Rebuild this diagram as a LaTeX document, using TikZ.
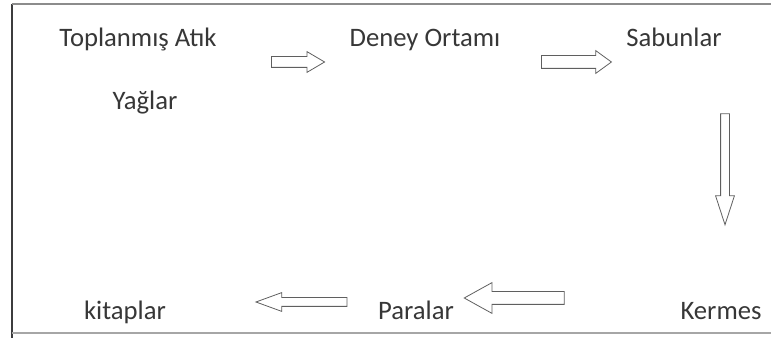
\documentclass[tikz,border=0pt]{standalone}
\usepackage{fontspec}
\setmainfont{Carlito}
\usetikzlibrary{shapes.arrows}
\definecolor{cTxt}{RGB}{55,55,55}
\definecolor{cFrm}{RGB}{60,60,62}
\definecolor{cArw}{RGB}{95,95,95}

\begin{document}
\begin{tikzpicture}[
  x=0.75pt, y=-0.75pt,
  font=\fontsize{20}{24}\selectfont,
  lbl/.style  = {text=cTxt, inner sep=0pt, anchor=base},
  blk/.style  = {single arrow, draw=cArw, line width=0.6pt, inner xsep=0pt,
                 single arrow head indent=0pt},
  frm/.style  = {line width=1.2pt}
]
\useasboundingbox (0,0) rectangle (771,338);

% ------------------------------------------------------------ il riquadro --
\draw[frm, cFrm] (12,338) -- (12,4);
\draw[frm, black!45] (12,4) -- (771,4);
\draw[frm, black!35] (12,333) -- (771,333);

% ---------------------------------------------------------------- le fasi --
\node[lbl] (atik)   at (138,47)  {Toplanmış Atık};
\node[lbl] (yag)    at (145,110) {Yağlar};
\node[lbl] (deney)  at (425,47)  {Deney Ortamı};
\node[lbl] (sabun)  at (674,47)  {Sabunlar};
\node[lbl] (kermes) at (721,320) {Kermes};
\node[lbl] (para)   at (416,320) {Paralar};
\node[lbl] (kitap)  at (125,320) {kitaplar};

% ------------------------------------------------------------------ frecce --
\node[blk, inner ysep=3.75pt, single arrow head extend=3.75pt,
      single arrow tip angle=61, minimum height=39.75pt] (f1) at (293.5,62) {};
\node[blk, inner ysep=4.5pt, single arrow head extend=3.75pt,
      single arrow tip angle=72, minimum height=52.5pt] (f2) at (572,62) {};
\node[blk, rotate=-90, inner ysep=3pt, single arrow head extend=3.75pt,
      single arrow tip angle=36, minimum height=83.25pt] (f3) at (725,162.5) {};
\node[blk, rotate=180, inner ysep=4.5pt, single arrow head extend=6.75pt,
      single arrow tip angle=58, minimum height=75pt] (f4) at (520,298) {};
\node[blk, rotate=180, inner ysep=3pt, single arrow head extend=3.75pt,
      single arrow tip angle=40, minimum height=68.25pt] (f5) at (307.5,302) {};

\end{tikzpicture}
\end{document}
